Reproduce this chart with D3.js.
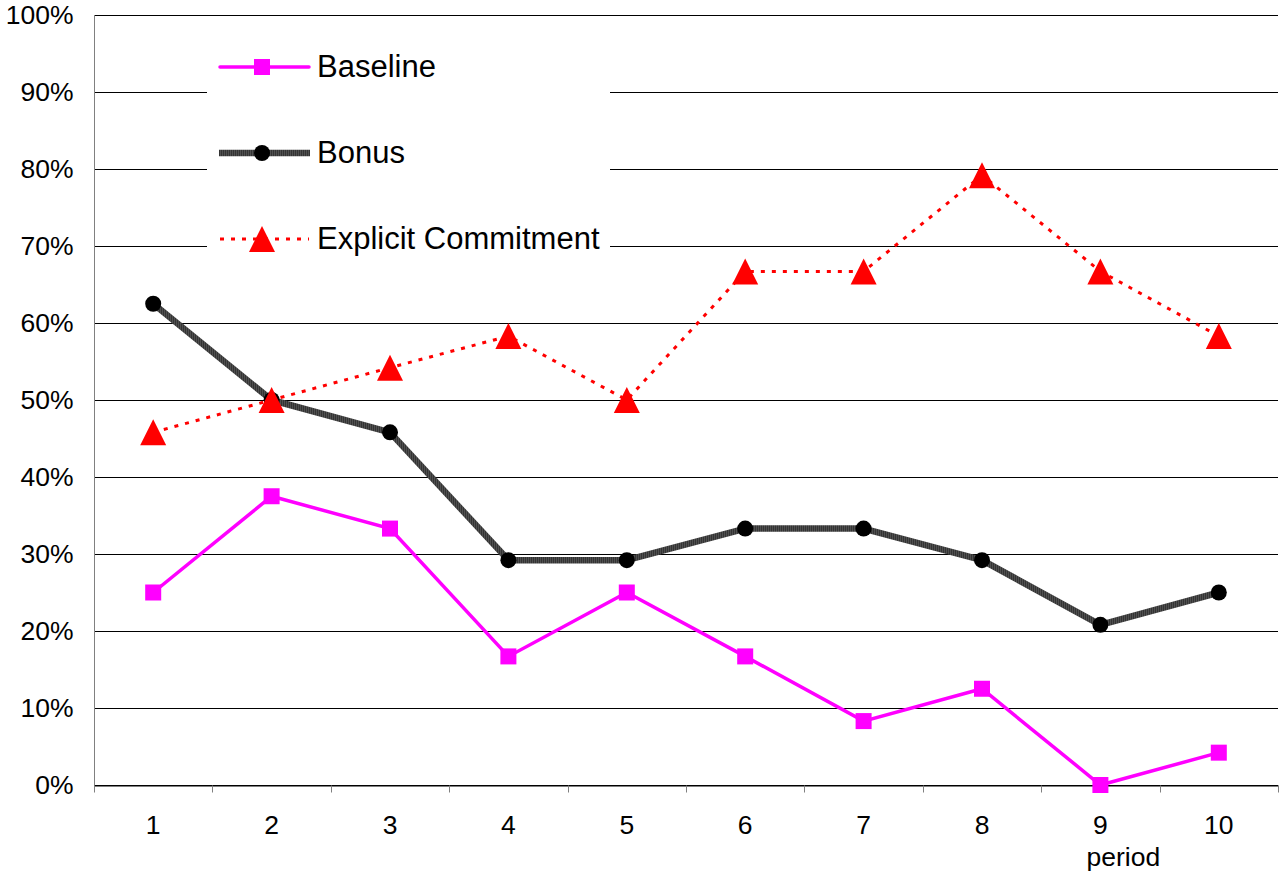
<!DOCTYPE html>
<html>
<head>
<meta charset="utf-8">
<script src="https://cdn.jsdelivr.net/npm/d3@7"></script>
<style>
  html, body { margin: 0; padding: 0; background: #fff; }
  svg { display: block; font-family: "Liberation Sans", Arial, sans-serif; }
</style>
</head>
<body>
<svg id="chart" width="1280" height="873"></svg>
<script>
// Share of participants per period, by treatment
const periods = [1, 2, 3, 4, 5, 6, 7, 8, 9, 10];
const baseline = [25.0, 37.5, 33.3, 16.7, 25.0, 16.7, 8.3, 12.5, 0.0, 4.2];
const bonus = [62.5, 50.0, 45.8, 29.2, 29.2, 33.3, 33.3, 29.2, 20.8, 25.0];
const explicitCommitment = [45.8, 50.0, 54.2, 58.3, 50.0, 66.7, 66.7, 79.2, 66.7, 58.3];
const yTicks = [0, 10, 20, 30, 40, 50, 60, 70, 80, 90, 100];
const seriesNames = ["Baseline", "Bonus", "Explicit Commitment"];
const xTitle = "period";

const svg = d3.select("#chart");
const plotL = 94, plotR = 1278, plotT = 15, plotB = 785;
const FONT = "Liberation Sans, Arial, sans-serif";

const x = d3.scaleBand().domain(periods).range([plotL, plotR]).padding(0);
const y = d3.scaleLinear().domain([0, 100]).range([plotB, plotT]);
const cx = d => x(d) + x.bandwidth() / 2;

// horizontal gridlines
svg.append("g").selectAll("line").data(yTicks).join("line")
  .attr("x1", plotL).attr("x2", plotR)
  .attr("y1", d => y(d) + 0.5).attr("y2", d => y(d) + 0.5)
  .attr("stroke", "#000").attr("stroke-width", 1);

// y axis
const yAxis = svg.append("g").attr("transform", `translate(${plotL + 0.5},0)`)
  .call(d3.axisLeft(y).tickValues(yTicks).tickFormat(d => d + "%").tickSize(0).tickPadding(21));
yAxis.select(".domain").attr("stroke", "#808080").attr("d", `M0,${plotT}V${plotB + 7}`);
yAxis.selectAll("text").attr("font-size", 26.5).attr("fill", "#000").attr("font-family", FONT);

// x axis with tick marks at category boundaries
const xAxis = svg.append("g").attr("transform", `translate(0,${plotB + 0.5})`)
  .call(d3.axisBottom(x).tickSize(0).tickPadding(30));
xAxis.select(".domain").attr("stroke", "#000");
xAxis.selectAll("text").attr("font-size", 26.5).attr("fill", "#000").attr("font-family", FONT);
const bounds = periods.map(p => x(p)).concat([plotR]);
xAxis.append("g").selectAll("line").data(bounds).join("line")
  .attr("x1", d => Math.round(d) + 0.5).attr("x2", d => Math.round(d) + 0.5)
  .attr("y1", 0).attr("y2", 7).attr("stroke", "#808080");

svg.append("text").attr("x", cx(9) + 23).attr("y", 866).attr("text-anchor", "middle")
  .attr("font-size", 26.5).attr("font-family", FONT).text(xTitle);

// hatched texture for the thick Bonus line
const defs = svg.append("defs");
const pat = defs.append("pattern").attr("id", "hatch").attr("patternUnits", "userSpaceOnUse")
  .attr("width", 2).attr("height", 2);
pat.append("rect").attr("width", 2).attr("height", 2).attr("fill", "#333");
pat.append("rect").attr("width", 1).attr("height", 2).attr("fill", "#505050");

const line = d3.line().x((d, i) => cx(periods[i])).y(d => y(d));
const triPath = "M0,-13L13,13L-13,13Z";

// Explicit Commitment: dotted red line with triangles
svg.append("path").datum(explicitCommitment).attr("d", line)
  .attr("fill", "none").attr("stroke", "#ff0000").attr("stroke-width", 3)
  .attr("stroke-dasharray", "4,7");

// Bonus: thick dark line with circles
svg.append("path").datum(bonus).attr("d", line)
  .attr("fill", "none").attr("stroke", "url(#hatch)").attr("stroke-width", 6.5)
  .attr("stroke-linejoin", "round");

// Baseline: magenta line with squares
svg.append("path").datum(baseline).attr("d", line)
  .attr("fill", "none").attr("stroke", "#ff00ff").attr("stroke-width", 3.5);

svg.append("g").selectAll("rect").data(baseline).join("rect")
  .attr("x", (d, i) => cx(periods[i]) - 8).attr("y", d => y(d) - 8)
  .attr("width", 16).attr("height", 16).attr("fill", "#ff00ff");

svg.append("g").selectAll("circle").data(bonus).join("circle")
  .attr("cx", (d, i) => cx(periods[i])).attr("cy", d => y(d)).attr("r", 8).attr("fill", "#000");

svg.append("g").selectAll("path").data(explicitCommitment).join("path")
  .attr("transform", (d, i) => `translate(${cx(periods[i])},${y(d)})`)
  .attr("d", triPath).attr("fill", "#ff0000");

// legend
const lg = svg.append("g");
lg.append("rect").attr("x", 207).attr("y", 38).attr("width", 403).attr("height", 228).attr("fill", "#fff");
const legY = [67, 153, 239];
const lx1 = 220, lx2 = 309, lmid = 262;
// Baseline entry
lg.append("line").attr("x1", lx1).attr("x2", lx2).attr("y1", legY[0]).attr("y2", legY[0])
  .attr("stroke", "#ff00ff").attr("stroke-width", 3.5).attr("stroke-linecap", "round");
lg.append("rect").attr("x", lmid - 8).attr("y", legY[0] - 8).attr("width", 16).attr("height", 16).attr("fill", "#ff00ff");
// Bonus entry
lg.append("line").attr("x1", lx1 - 1).attr("x2", lx2 + 1).attr("y1", legY[1]).attr("y2", legY[1])
  .attr("stroke", "url(#hatch)").attr("stroke-width", 6.5);
lg.append("circle").attr("cx", lmid).attr("cy", legY[1]).attr("r", 8).attr("fill", "#000");
// Explicit Commitment entry
lg.append("line").attr("x1", lx1).attr("x2", lx2).attr("y1", legY[2]).attr("y2", legY[2])
  .attr("stroke", "#ff0000").attr("stroke-width", 3).attr("stroke-dasharray", "4,7");
lg.append("path").attr("transform", `translate(${lmid},${legY[2]})`).attr("d", triPath).attr("fill", "#ff0000");
lg.selectAll("text.leg").data(seriesNames).join("text").attr("class", "leg")
  .attr("x", 317).attr("y", (d, i) => legY[i] + 10).attr("font-size", 31)
  .attr("font-family", FONT).text(d => d);
</script>
</body>
</html>
